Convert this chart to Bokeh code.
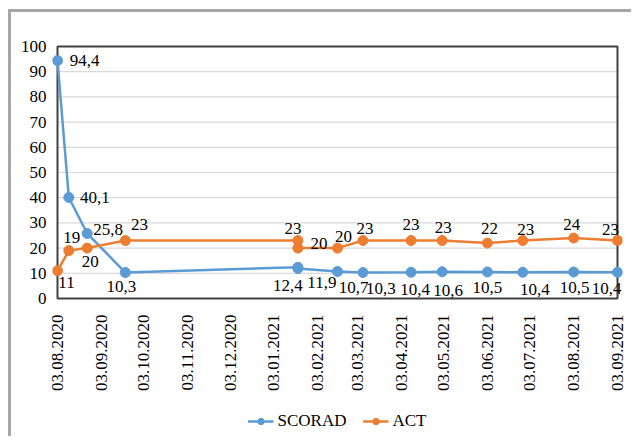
import pandas as pd
from math import pi
from bokeh.plotting import figure
from bokeh.layouts import column
from bokeh.models import FixedTicker, Legend, LegendItem, ColumnDataSource, Range1d
from bokeh.core.properties import value
from bokeh.embed import file_html
from bokeh.resources import INLINE

# ---- data ----
dates = ["03.08.2020", "11.08.2020", "24.08.2020", "20.09.2020", "20.01.2021",
         "20.01.2021", "17.02.2021", "07.03.2021", "10.04.2021", "02.05.2021",
         "03.06.2021", "28.06.2021", "03.08.2021", "03.09.2021"]
scorad = [94.4, 40.1, 25.8, 10.3, 12.4, 11.9, 10.7, 10.3, 10.4, 10.6, 10.5, 10.4, 10.5, 10.4]
act = [11, 19, 20, 23, 23, 20, 20, 23, 23, 23, 22, 23, 24, 23]
x_tick_labels = ["03.08.2020", "03.09.2020", "03.10.2020", "03.11.2020", "03.12.2020",
                 "03.01.2021", "03.02.2021", "03.03.2021", "03.04.2021", "03.05.2021",
                 "03.06.2021", "03.07.2021", "03.08.2021", "03.09.2021"]
y_ticks = [0, 10, 20, 30, 40, 50, 60, 70, 80, 90, 100]
series_names = ["SCORAD", "ACT"]

# ---- label placement (screen px offsets, style only) ----
scorad_dx = [27, 26, 21, -4, -10, 24, 16, 18, 4, 6, 0, 12, 1, -11]
scorad_dy = [0, 0, -4, 14, 18, 14, 16, 16, 17, 19, 15, 17, 15, 16]
act_dx = [9, 3, 3, 14, -5, 21, 6, 2, 0, 1, 2, 3, -2, -7]
act_dy = [12, -13, 13, -16, -12, -5, -12, -12, -16, -13, -15, -11, -14, -11]

BLUE = "#5b9bd5"
ORANGE = "#ed7d31"
FONT = "Liberation Serif"
FS = "17px"
XPAD_PX, YPAD_PX = 5, 3          # room so edge markers are not clipped
PLOT_W_PX, PLOT_H_PX = 560, 252  # size of the bordered plot box


def to_ms(s):
    return pd.to_datetime(s, format="%d.%m.%Y").value / 1e6


xs = [to_ms(d) for d in dates]
tick_ms = [to_ms(t) for t in x_tick_labels]
t0, t1 = tick_ms[0], tick_ms[-1]
y0, y1 = y_ticks[0], y_ticks[-1]
xpad = (t1 - t0) * XPAD_PX / PLOT_W_PX
ypad = (y1 - y0) * YPAD_PX / PLOT_H_PX

src_s = ColumnDataSource(dict(x=xs, y=scorad,
                              lab=[f"{v:.1f}".replace(".", ",") for v in scorad],
                              dx=scorad_dx, dy=scorad_dy))
src_a = ColumnDataSource(dict(x=xs, y=act, lab=[str(v) for v in act],
                              dx=act_dx, dy=act_dy))

p = figure(width=620, height=390, x_axis_type="datetime",
           x_range=Range1d(t0 - xpad, t1 + xpad),
           y_range=Range1d(y0 - ypad, y1 + ypad),
           output_backend="svg", toolbar_location=None,
           min_border_left=46 - XPAD_PX, min_border_right=14 - XPAD_PX,
           min_border_top=34 - YPAD_PX, min_border_bottom=104 - YPAD_PX)

p.background_fill_color = "white"
p.border_fill_color = "white"
p.outline_line_color = None
p.grid.grid_line_color = None

p.yaxis.ticker = FixedTicker(ticks=y_ticks)
p.xaxis.ticker = FixedTicker(ticks=tick_ms)
p.xaxis.major_label_overrides = {t: l for t, l in zip(tick_ms, x_tick_labels)}
p.xaxis.major_label_orientation = pi / 2

for ax in (p.xaxis, p.yaxis):
    ax.axis_line_color = None
    ax.major_tick_line_color = None
    ax.minor_tick_line_color = None
    ax.major_label_text_font = FONT
    ax.major_label_text_font_size = FS
    ax.major_label_text_color = "black"
p.yaxis.major_label_standoff = 5 - XPAD_PX
p.xaxis.major_label_standoff = 10 - YPAD_PX

# horizontal gridlines and plot box, spanning exactly the axis extent
grid_y = y_ticks[1:-1]
grid_src = ColumnDataSource(dict(x0=[t0] * len(grid_y), x1=[t1] * len(grid_y),
                                 y=grid_y))
p.segment(x0="x0", x1="x1", y0="y", y1="y", source=grid_src,
          line_color="#d9d9d9", line_width=1.2)
p.quad(left=[t0], right=[t1], bottom=[y0], top=[y1],
       fill_color=None, line_color="#404040", line_width=2)

p.line("x", "y", source=src_s, line_color=BLUE, line_width=2.5)
p.scatter("x", "y", source=src_s, size=10, fill_color=BLUE, line_color=BLUE)
p.line("x", "y", source=src_a, line_color=ORANGE, line_width=2.5)
p.scatter("x", "y", source=src_a, size=10, fill_color=ORANGE, line_color=ORANGE)

for src in (src_s, src_a):
    p.text("x", "y", text="lab", source=src, x_offset="dx", y_offset="dy",
           text_font=value(FONT), text_font_size=FS, text_color="black",
           text_align="center", text_baseline="middle")

# ---- legend strip below the chart ----
q = figure(width=620, height=34, x_range=Range1d(0, 1), y_range=Range1d(0, 1),
           output_backend="svg", toolbar_location=None,
           min_border_left=22, min_border_right=0, min_border_top=4, min_border_bottom=0)
q.axis.visible = False
q.grid.visible = False
q.outline_line_color = None
q.background_fill_color = "white"
q.border_fill_color = "white"

nan = float("nan")
items = []
for name, col in zip(series_names, (BLUE, ORANGE)):
    dummy = ColumnDataSource(dict(x=[nan], y=[nan]))
    rl = q.line("x", "y", source=dummy, line_color=col, line_width=2.5)
    rs = q.scatter("x", "y", source=dummy, size=9, fill_color=col, line_color=col)
    items.append(LegendItem(label=name, renderers=[rl, rs]))

legend = Legend(items=items, orientation="horizontal", location="center",
                border_line_color=None, background_fill_alpha=0,
                label_text_font=FONT, label_text_font_size=FS, label_text_color="black",
                glyph_width=26, glyph_height=16, label_standoff=4, spacing=16,
                padding=0, margin=0)
q.add_layout(legend)

layout = column(p, q, spacing=0,
                styles={"margin-left": "8px", "margin-top": "9px",
                        "border-left": "3px solid #a6a6a6",
                        "border-top": "3px solid #a6a6a6"})

html = file_html(layout, INLINE)
html = html.replace("<head>", "<head><style>html, body { overflow: hidden; }</style>", 1)
open("out.html", "w").write(html)
